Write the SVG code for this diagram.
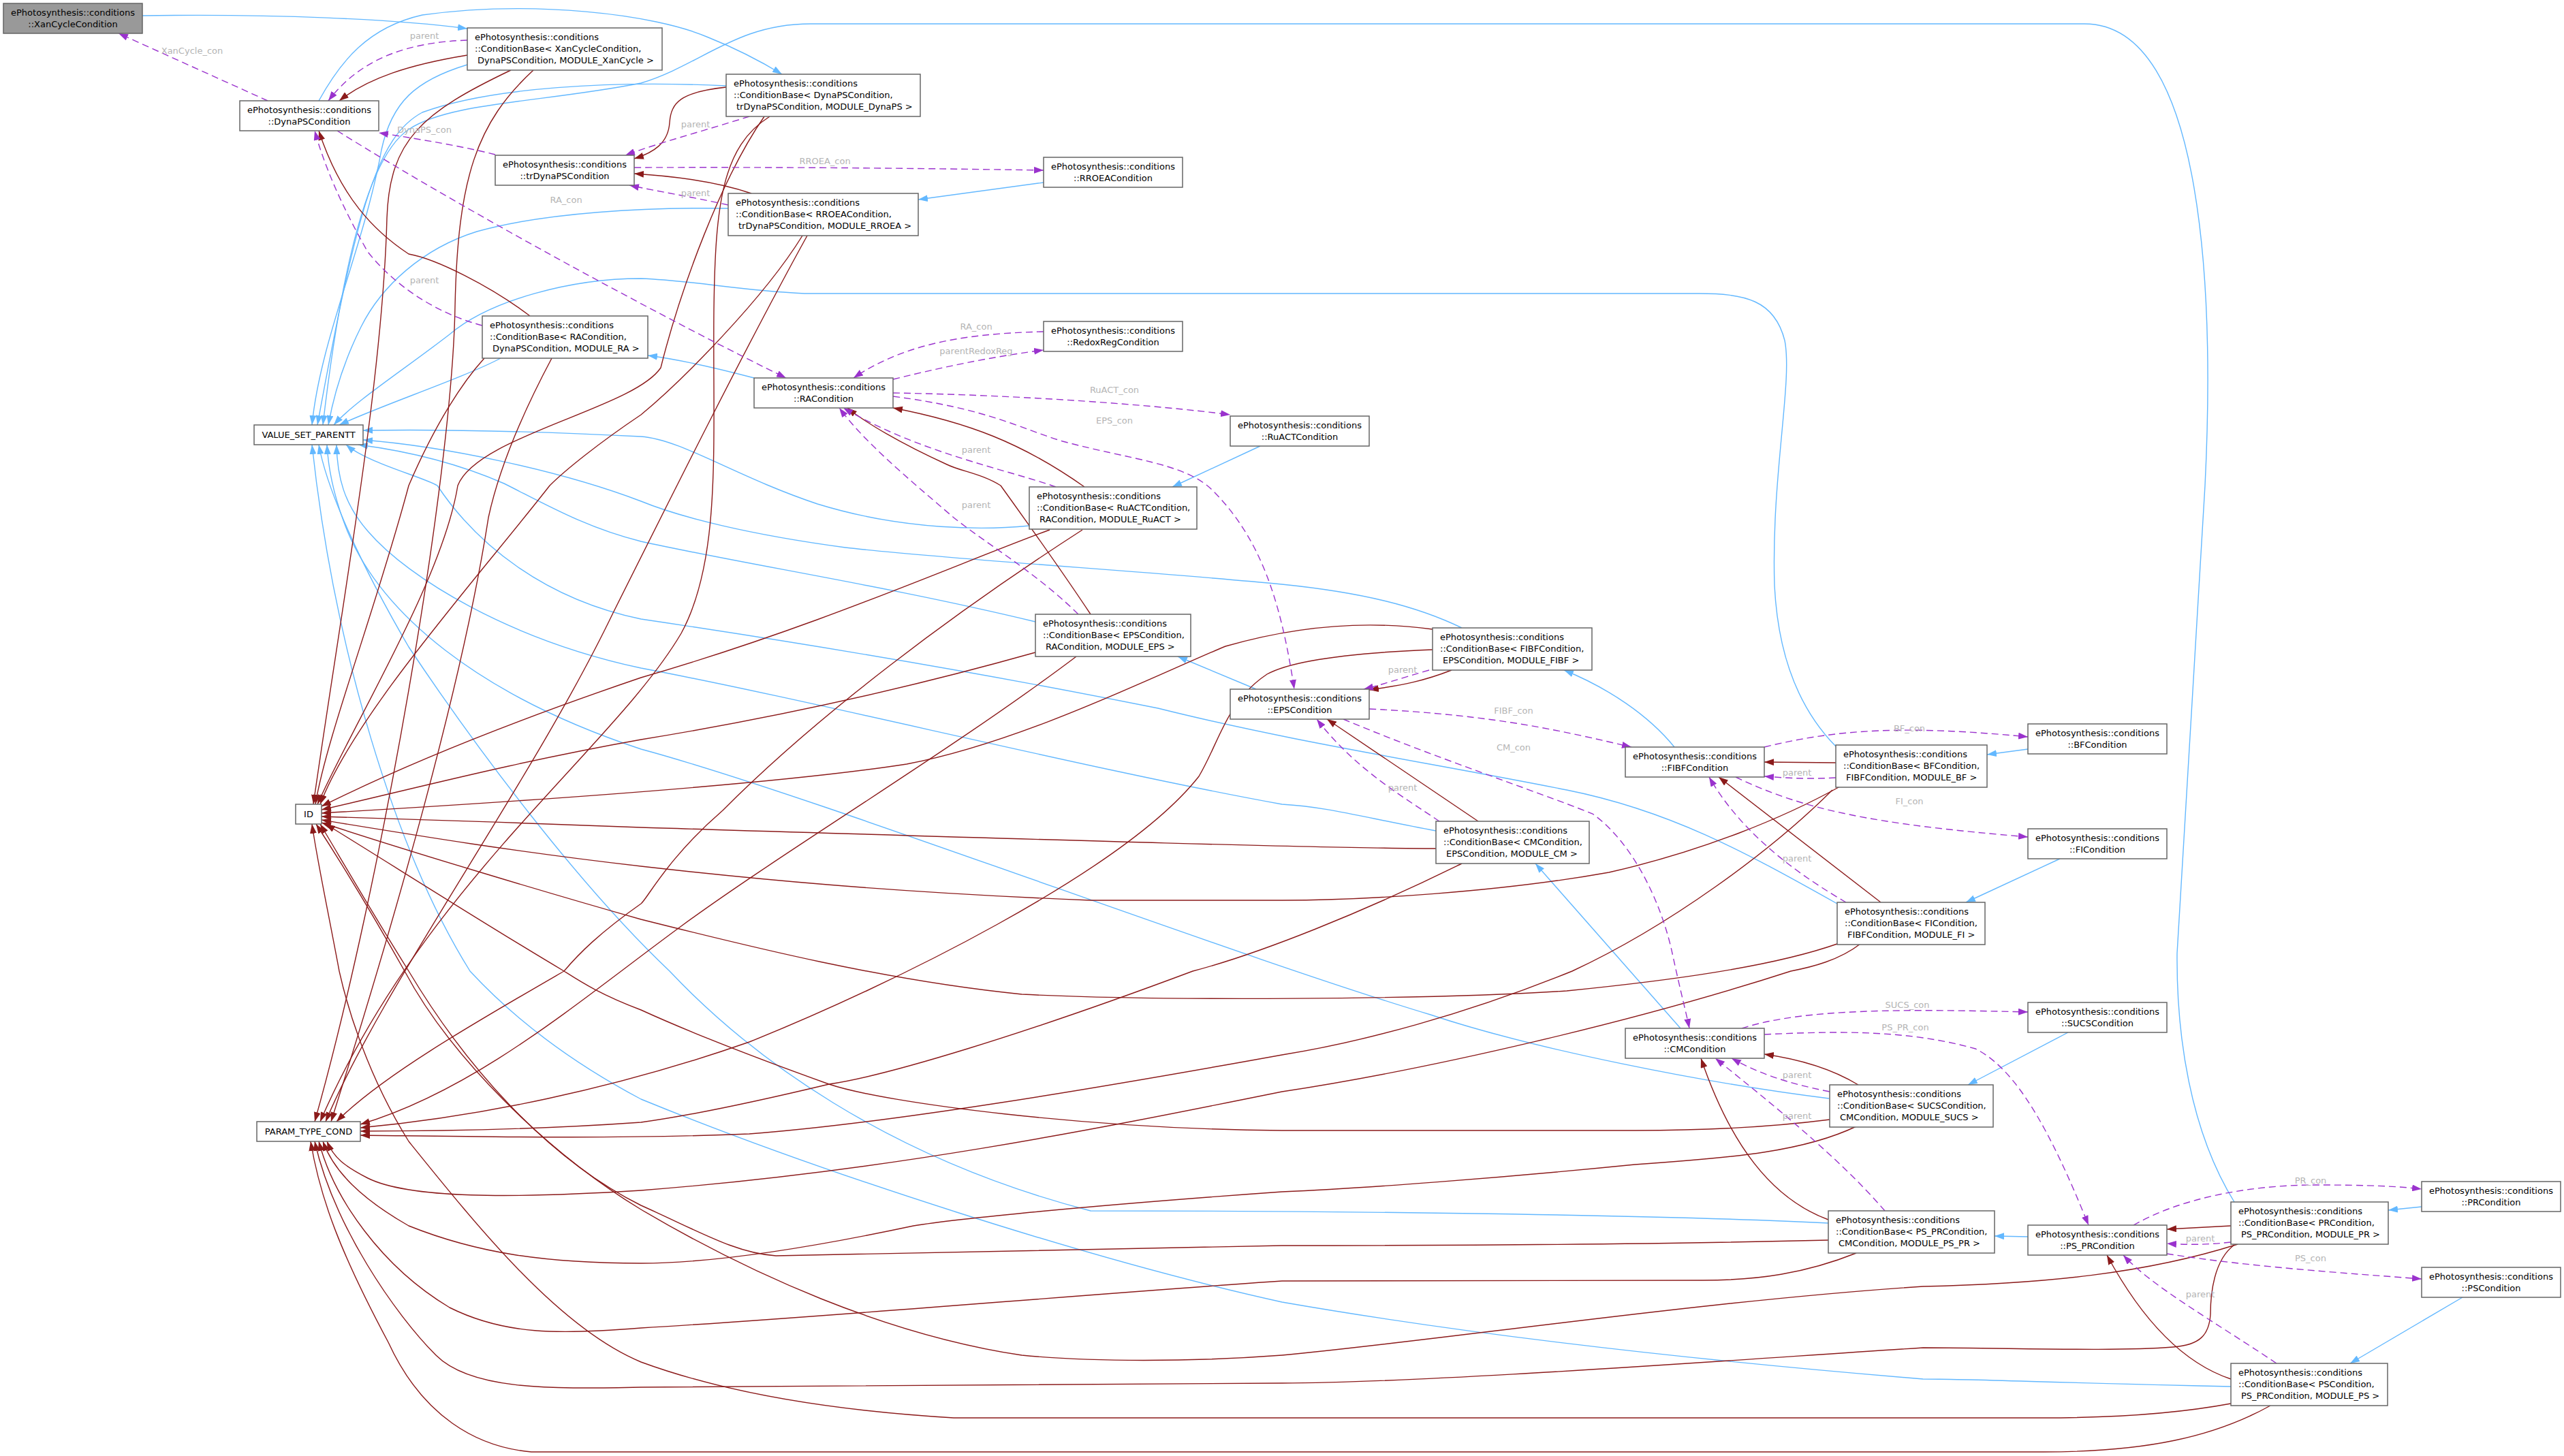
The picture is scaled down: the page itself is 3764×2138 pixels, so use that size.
<svg xmlns="http://www.w3.org/2000/svg" width="3764" height="2138" viewBox="0 0 3764 2138">
<style>
.node rect{fill:#ffffff;stroke:#666666;stroke-width:1.5}
.focus rect{fill:#999999}
text{font-family:"DejaVu Sans","Liberation Sans",sans-serif;font-size:13px;fill:#000000}
.c{text-anchor:middle}
.lbl{fill:#b4b4b4;text-anchor:middle}
.eb{stroke:#63b8ff;fill:none;stroke-width:1.4;marker-end:url(#ab)}
.er{stroke:#8b1a1a;fill:none;stroke-width:1.4;marker-end:url(#ar)}
.ep{stroke:#9a32cd;fill:none;stroke-width:1.4;stroke-dasharray:10,6;marker-end:url(#ap)}
</style>
<defs>
<marker id="ab" markerUnits="userSpaceOnUse" markerWidth="14" markerHeight="10" refX="14" refY="5" orient="auto"><path d="M0,0 L14,5 L0,10 z" fill="#63b8ff"/></marker>
<marker id="ar" markerUnits="userSpaceOnUse" markerWidth="14" markerHeight="10" refX="14" refY="5" orient="auto"><path d="M0,0 L14,5 L0,10 z" fill="#8b1a1a"/></marker>
<marker id="ap" markerUnits="userSpaceOnUse" markerWidth="14" markerHeight="10" refX="14" refY="5" orient="auto"><path d="M0,0 L14,5 L0,10 z" fill="#9a32cd"/></marker>
</defs>
<rect width="3764" height="2138" fill="#ffffff"/>
<g id="edges">
<!-- blue inheritance -->
<path class="eb" d="M209,23 C400,20 580,28 686,42"/>
<path class="eb" d="M468,148 C500,90 540,40 620,22 C780,0 960,20 1040,55 C1090,75 1125,95 1148,109"/>
<path class="eb" d="M1532,268 L1348,293"/>
<path class="eb" d="M1107,555 C1050,540 1000,528 951,522"/>
<path class="eb" d="M1850,655 L1721,715"/>
<path class="eb" d="M1844,1012 L1729,964"/>
<path class="eb" d="M2458,1097 C2420,1050 2360,1010 2296,984"/>
<path class="eb" d="M2977,1100 L2917,1108"/>
<path class="eb" d="M2467,1510 L2254,1268"/>
<path class="eb" d="M3024,1261 L2886,1325"/>
<path class="eb" d="M3036,1516 L2889,1593"/>
<path class="eb" d="M2977,1816 L2928,1815"/>
<path class="eb" d="M3555,1772 L3506,1777"/>
<path class="eb" d="M3615,1905 L3450,2002"/>
<path class="eb" d="M686,95 C610,118 575,150 560,220 C535,360 470,500 458,624"/>
<path class="eb" d="M1066,126 C900,118 720,128 620,165 C555,200 525,300 466,624"/>
<path class="eb" d="M3280,1765 C3215,1660 3195,1520 3196,1400 L3237,713 C3250,450 3240,35 3060,35 L1190,35 C1080,35 1030,95 941,122 C800,150 660,150 600,190 C540,230 500,400 474,624"/>
<path class="eb" d="M1069,306 C950,304 800,312 700,340 C620,365 560,420 530,480 C505,530 490,580 482,624"/>
<path class="eb" d="M2695,1096 C2640,1040 2610,960 2605,860 C2600,700 2632,560 2620,500 C2605,440 2560,431 2494,431 L1181,431 C1080,426 1020,412 941,409 C840,409 720,440 660,491 C590,545 520,590 490,624"/>
<path class="eb" d="M735,526 C680,555 560,595 498,624"/>
<path class="eb" d="M1511,772 C1450,778 1330,780 1200,740 C1080,700 1000,645 941,641 C800,634 650,630 533,632"/>
<path class="eb" d="M2146,922 C2080,890 2000,870 1882,858 C1700,840 1400,822 1241,804 C1100,785 1000,760 941,736 C820,690 650,655 533,646"/>
<path class="eb" d="M1520,913 C1300,860 1100,830 941,795 C860,775 800,740 740,710 C660,675 580,660 526,653"/>
<path class="eb" d="M2697,1327 C2560,1250 2450,1190 2300,1160 C2100,1120 1900,1090 1700,1040 C1400,980 1150,940 941,909 C800,880 700,800 642,713 C620,700 540,680 508,653"/>
<path class="eb" d="M2108,1220 C2000,1200 1950,1185 1882,1181 C1600,1130 1200,1030 941,981 C750,940 600,850 540,780 C505,740 495,700 494,653"/>
<path class="eb" d="M2685,1613 C2500,1590 2250,1540 2100,1490 C1800,1400 1200,1170 941,1100 C700,1020 560,900 510,780 C490,730 482,690 480,653"/>
<path class="eb" d="M2684,1796 C2400,1782 1900,1778 1601,1778 C1300,1700 1100,1550 983,1426 C850,1300 700,1100 600,950 C530,830 480,720 468,653"/>
<path class="eb" d="M3275,2036 C3000,2030 2900,2025 2823,2025 C2400,1990 2100,1950 1882,1912 C1600,1850 1200,1720 941,1614 C820,1550 740,1480 690,1426 C580,1250 490,950 458,653"/>
<!-- dark red -->
<path class="er" d="M686,81 C600,95 540,115 498,148"/>
<path class="er" d="M1066,128 C1000,135 985,150 983,180 C981,210 960,224 931,233"/>
<path class="er" d="M1103,284 C1050,266 980,258 931,255"/>
<path class="er" d="M778,464 C720,420 640,380 600,373 C550,340 500,290 468,192"/>
<path class="er" d="M1592,715 C1500,650 1420,620 1311,599"/>
<path class="er" d="M1601,902 C1560,840 1510,770 1469,713 C1440,695 1410,692 1390,682 C1320,650 1270,620 1244,599"/>
<path class="er" d="M2131,984 C2090,1000 2060,1006 2010,1013"/>
<path class="er" d="M2170,1206 L1948,1056"/>
<path class="er" d="M2695,1120 L2590,1119"/>
<path class="er" d="M2761,1325 L2523,1141"/>
<path class="er" d="M2728,1593 C2690,1570 2640,1555 2590,1548"/>
<path class="er" d="M2684,1791 C2600,1760 2540,1680 2497,1554"/>
<path class="er" d="M3275,1800 L3181,1805"/>
<path class="er" d="M3275,2025 C3200,2000 3140,1930 3093,1843"/>
<!-- to ID -->
<path class="er" d="M750,103 C620,165 572,205 568,320 C562,560 500,900 460,1181"/>
<path class="er" d="M1122,171 C1060,260 1000,420 970,540 C930,600 700,640 672,713 C650,850 520,1060 466,1181"/>
<path class="er" d="M1178,346 C1120,440 1000,560 941,609 C880,650 830,690 807,713 C700,850 520,1050 470,1181"/>
<path class="er" d="M711,526 C680,560 640,620 600,713 C550,900 480,1080 463,1181"/>
<path class="er" d="M1541,778 C1400,830 1200,920 941,995 C750,1060 600,1120 472,1184"/>
<path class="er" d="M1520,958 C1300,1020 1100,1060 941,1086 C750,1120 600,1160 472,1189"/>
<path class="er" d="M2103,924 C2000,910 1900,920 1799,949 C1700,990 1500,1090 1331,1122 C1150,1150 800,1175 472,1194"/>
<path class="er" d="M2108,1246 C1950,1246 1500,1232 941,1215 C800,1210 600,1202 472,1199"/>
<path class="er" d="M2701,1155 C2620,1200 2500,1250 2362,1281 C2200,1310 2000,1322 1882,1322 L1601,1322 C1300,1310 1100,1290 941,1272 C750,1250 600,1225 472,1204"/>
<path class="er" d="M2697,1386 C2600,1420 2450,1440 2300,1455 C2100,1468 1700,1470 1500,1460 C1300,1440 1100,1390 941,1350 C800,1310 600,1250 472,1208"/>
<path class="er" d="M2686,1644 C2600,1655 2500,1660 2400,1660 L1882,1660 C1600,1658 1300,1620 1217,1592 C1100,1550 1000,1510 941,1483 C880,1460 850,1440 828,1426 C700,1350 560,1260 478,1210"/>
<path class="er" d="M2684,1821 C2400,1828 2100,1829 1882,1829 L1139,1844 C1080,1840 1030,1810 941,1770 C800,1700 680,1560 600,1426 C540,1330 500,1260 470,1210"/>
<path class="er" d="M3285,1827 C3150,1870 3000,1885 2823,1889 C2500,1910 2100,1970 1882,1990 C1750,2000 1600,2000 1500,1990 C1300,1960 1100,1870 941,1776 C800,1690 660,1550 594,1426 C540,1330 490,1250 464,1210"/>
<path class="er" d="M3275,2061 C3200,2075 3100,2082 3000,2082 L1400,2082 C1200,2070 1050,2040 941,2000 C820,1950 700,1800 600,1676 C540,1580 510,1480 498,1426 C480,1330 465,1260 458,1210"/>
<!-- to PARAM_TYPE_COND -->
<path class="er" d="M783,103 C700,180 672,260 668,450 C664,700 560,1300 462,1647"/>
<path class="er" d="M1130,171 C1060,215 1050,300 1048,455 C1046,650 1060,820 1000,930 C900,1100 620,1300 470,1647"/>
<path class="er" d="M1185,346 C1100,500 1000,700 900,900 C780,1150 560,1450 478,1647"/>
<path class="er" d="M810,526 C760,620 730,700 717,760 C680,1000 580,1350 486,1647"/>
<path class="er" d="M1589,778 C1400,900 1200,1050 1061,1190 C980,1260 950,1320 941,1327 C880,1370 850,1400 828,1426 C700,1500 560,1580 494,1647"/>
<path class="er" d="M1580,964 C1400,1100 1150,1250 1000,1360 C850,1470 700,1600 529,1651"/>
<path class="er" d="M2103,954 C2000,958 1900,968 1860,990 C1800,1030 1790,1090 1760,1140 C1650,1280 1300,1450 1100,1530 C900,1600 700,1640 529,1656"/>
<path class="er" d="M2146,1268 C2000,1340 1850,1400 1751,1426 C1500,1520 1300,1580 1217,1592 C1100,1620 1000,1640 941,1648 C800,1658 650,1661 529,1661"/>
<path class="er" d="M2690,1160 C2600,1250 2450,1360 2308,1426 C2150,1490 2000,1530 1882,1549 C1600,1600 1300,1650 1100,1665 C900,1673 700,1669 529,1667"/>
<path class="er" d="M2731,1386 C2700,1410 2660,1420 2629,1426 C2400,1500 2100,1570 1882,1603 C1600,1660 1300,1720 941,1748 C750,1760 600,1760 540,1730 C505,1712 490,1700 480,1676"/>
<path class="er" d="M2725,1654 C2650,1690 2550,1700 2400,1710 C2200,1730 2000,1745 1882,1750 C1600,1770 1400,1790 1341,1800 C1200,1830 1050,1855 941,1855 C800,1855 700,1840 600,1800 C530,1760 490,1720 474,1676"/>
<path class="er" d="M2725,1840 C2650,1870 2580,1880 2500,1880 L1882,1881 C1600,1900 1200,1935 941,1950 C820,1960 740,1960 660,1920 C560,1860 490,1760 468,1676"/>
<path class="er" d="M3280,1828 C3250,1850 3245,1900 3245,1930 C3243,1960 3230,1975 3190,1978 C3100,1985 2950,1979 2823,1979 C2500,2000 2100,2030 1882,2031 L941,2037 C800,2040 690,2040 640,1990 C580,1930 490,1800 462,1676"/>
<path class="er" d="M3333,2064 C3250,2110 3150,2132 3000,2132 L780,2132 C700,2125 620,2080 570,1971 C500,1840 470,1760 456,1676"/>
<!-- purple dashed -->
<path class="ep" d="M393,148 L174,49"/>
<path class="ep" d="M686,59 C600,62 530,85 482,148"/>
<path class="ep" d="M727,227 C680,215 620,205 556,195"/>
<path class="ep" d="M1100,171 C1040,190 960,212 918,228"/>
<path class="ep" d="M931,246 C1200,245 1400,248 1532,250"/>
<path class="ep" d="M1069,301 C1020,290 960,280 924,272"/>
<path class="ep" d="M495,192 C700,320 1000,480 1154,555"/>
<path class="ep" d="M708,478 C640,460 580,420 540,370 C500,300 475,240 462,192"/>
<path class="ep" d="M1532,487 C1400,490 1320,510 1253,555"/>
<path class="ep" d="M1311,557 C1400,535 1470,522 1532,514"/>
<path class="ep" d="M1311,577 C1500,580 1700,595 1806,609"/>
<path class="ep" d="M1311,582 C1450,600 1500,630 1560,648 C1660,675 1740,680 1780,720 C1850,790 1880,880 1900,1012"/>
<path class="ep" d="M1550,715 C1480,690 1350,665 1238,599"/>
<path class="ep" d="M1583,902 C1520,840 1450,800 1400,760 C1330,700 1270,650 1232,599"/>
<path class="ep" d="M2010,1041 C2200,1050 2300,1075 2395,1097"/>
<path class="ep" d="M1972,1056 C2100,1110 2250,1160 2338,1195 C2400,1240 2440,1330 2455,1400 C2468,1460 2476,1490 2480,1510"/>
<path class="ep" d="M2098,984 C2060,995 2030,1005 2002,1012"/>
<path class="ep" d="M2113,1206 C2060,1170 1990,1130 1933,1056"/>
<path class="ep" d="M2590,1097 C2700,1070 2800,1065 2977,1082"/>
<path class="ep" d="M2695,1142 C2660,1144 2630,1143 2590,1140"/>
<path class="ep" d="M2548,1141 C2650,1190 2750,1210 2977,1229"/>
<path class="ep" d="M2710,1325 C2650,1290 2560,1230 2509,1141"/>
<path class="ep" d="M2557,1510 C2650,1480 2800,1482 2977,1486"/>
<path class="ep" d="M2590,1519 C2700,1514 2800,1512 2900,1540 C2960,1570 3010,1660 3066,1799"/>
<path class="ep" d="M2686,1603 C2620,1590 2580,1575 2542,1554"/>
<path class="ep" d="M2767,1778 C2700,1700 2600,1620 2518,1554"/>
<path class="ep" d="M3132,1799 C3200,1760 3300,1740 3400,1740 C3480,1740 3520,1742 3555,1746"/>
<path class="ep" d="M3275,1824 C3240,1828 3210,1828 3181,1826"/>
<path class="ep" d="M3181,1841 C3300,1860 3450,1870 3555,1878"/>
<path class="ep" d="M3342,2002 C3250,1940 3160,1890 3117,1843"/>
<!-- labels -->
<text class="lbl" x="282" y="79">XanCycle_con</text>
<text class="lbl" x="623" y="57">parent</text>
<text class="lbl" x="623" y="195">DynaPS_con</text>
<text class="lbl" x="1021" y="187">parent</text>
<text class="lbl" x="1211" y="241">RROEA_con</text>
<text class="lbl" x="1021" y="288">parent</text>
<text class="lbl" x="831" y="298">RA_con</text>
<text class="lbl" x="623" y="416">parent</text>
<text class="lbl" x="1433" y="484">RA_con</text>
<text class="lbl" x="1433" y="520">parentRedoxReg</text>
<text class="lbl" x="1636" y="577">RuACT_con</text>
<text class="lbl" x="1636" y="622">EPS_con</text>
<text class="lbl" x="1433" y="665">parent</text>
<text class="lbl" x="1433" y="746">parent</text>
<text class="lbl" x="2222" y="1048">FIBF_con</text>
<text class="lbl" x="2222" y="1102">CM_con</text>
<text class="lbl" x="2059" y="988">parent</text>
<text class="lbl" x="2059" y="1161">parent</text>
<text class="lbl" x="2803" y="1074">BF_con</text>
<text class="lbl" x="2638" y="1139">parent</text>
<text class="lbl" x="2803" y="1181">FI_con</text>
<text class="lbl" x="2638" y="1265">parent</text>
<text class="lbl" x="2800" y="1480">SUCS_con</text>
<text class="lbl" x="2797" y="1513">PS_PR_con</text>
<text class="lbl" x="2638" y="1583">parent</text>
<text class="lbl" x="2638" y="1643">parent</text>
<text class="lbl" x="3392" y="1738">PR_con</text>
<text class="lbl" x="3230" y="1823">parent</text>
<text class="lbl" x="3392" y="1852">PS_con</text>
<text class="lbl" x="3230" y="1905">parent</text>
</g>
<g id="nodes">
<g id="n-xan" class="node focus"><rect x="5" y="5" width="204" height="44"/><text class="c"><tspan x="107" y="23">ePhotosynthesis::conditions</tspan><tspan x="107" y="40">::XanCycleCondition</tspan></text></g>
<g id="n-cbxan" class="node"><rect x="686" y="41" width="286" height="62"/><text><tspan x="697" y="59">ePhotosynthesis::conditions</tspan><tspan x="697" y="76">::ConditionBase&lt; XanCycleCondition,</tspan><tspan x="701" y="93">DynaPSCondition, MODULE_XanCycle &gt;</tspan></text></g>
<g id="n-dynaps" class="node"><rect x="352" y="148" width="204" height="44"/><text class="c"><tspan x="454" y="166">ePhotosynthesis::conditions</tspan><tspan x="454" y="183">::DynaPSCondition</tspan></text></g>
<g id="n-cbdyn" class="node"><rect x="1066" y="109" width="285" height="62"/><text><tspan x="1077" y="127">ePhotosynthesis::conditions</tspan><tspan x="1077" y="144">::ConditionBase&lt; DynaPSCondition,</tspan><tspan x="1081" y="161">trDynaPSCondition, MODULE_DynaPS &gt;</tspan></text></g>
<g id="n-trdyn" class="node"><rect x="727" y="228" width="204" height="44"/><text class="c"><tspan x="829" y="246">ePhotosynthesis::conditions</tspan><tspan x="829" y="263">::trDynaPSCondition</tspan></text></g>
<g id="n-rroea" class="node"><rect x="1532" y="231" width="204" height="44"/><text class="c"><tspan x="1634" y="249">ePhotosynthesis::conditions</tspan><tspan x="1634" y="266">::RROEACondition</tspan></text></g>
<g id="n-cbrroea" class="node"><rect x="1069" y="284" width="279" height="62"/><text><tspan x="1080" y="302">ePhotosynthesis::conditions</tspan><tspan x="1080" y="319">::ConditionBase&lt; RROEACondition,</tspan><tspan x="1084" y="336">trDynaPSCondition, MODULE_RROEA &gt;</tspan></text></g>
<g id="n-cbra" class="node"><rect x="708" y="464" width="243" height="62"/><text><tspan x="719" y="482">ePhotosynthesis::conditions</tspan><tspan x="719" y="499">::ConditionBase&lt; RACondition,</tspan><tspan x="723" y="516">DynaPSCondition, MODULE_RA &gt;</tspan></text></g>
<g id="n-vsp" class="node"><rect x="373" y="624" width="160" height="29"/><text class="c" x="453" y="643">VALUE_SET_PARENTT</text></g>
<g id="n-redox" class="node"><rect x="1532" y="472" width="204" height="44"/><text class="c"><tspan x="1634" y="490">ePhotosynthesis::conditions</tspan><tspan x="1634" y="507">::RedoxRegCondition</tspan></text></g>
<g id="n-ra" class="node"><rect x="1107" y="555" width="204" height="44"/><text class="c"><tspan x="1209" y="573">ePhotosynthesis::conditions</tspan><tspan x="1209" y="590">::RACondition</tspan></text></g>
<g id="n-ruact" class="node"><rect x="1806" y="611" width="204" height="44"/><text class="c"><tspan x="1908" y="629">ePhotosynthesis::conditions</tspan><tspan x="1908" y="646">::RuACTCondition</tspan></text></g>
<g id="n-cbruact" class="node"><rect x="1511" y="715" width="246" height="62"/><text><tspan x="1522" y="733">ePhotosynthesis::conditions</tspan><tspan x="1522" y="750">::ConditionBase&lt; RuACTCondition,</tspan><tspan x="1526" y="767">RACondition, MODULE_RuACT &gt;</tspan></text></g>
<g id="n-cbeps" class="node"><rect x="1520" y="902" width="228" height="62"/><text><tspan x="1531" y="920">ePhotosynthesis::conditions</tspan><tspan x="1531" y="937">::ConditionBase&lt; EPSCondition,</tspan><tspan x="1535" y="954">RACondition, MODULE_EPS &gt;</tspan></text></g>
<g id="n-eps" class="node"><rect x="1806" y="1012" width="204" height="44"/><text class="c"><tspan x="1908" y="1030">ePhotosynthesis::conditions</tspan><tspan x="1908" y="1047">::EPSCondition</tspan></text></g>
<g id="n-cbfibf" class="node"><rect x="2103" y="922" width="234" height="62"/><text><tspan x="2114" y="940">ePhotosynthesis::conditions</tspan><tspan x="2114" y="957">::ConditionBase&lt; FIBFCondition,</tspan><tspan x="2118" y="974">EPSCondition, MODULE_FIBF &gt;</tspan></text></g>
<g id="n-fibf" class="node"><rect x="2386" y="1097" width="204" height="44"/><text class="c"><tspan x="2488" y="1115">ePhotosynthesis::conditions</tspan><tspan x="2488" y="1132">::FIBFCondition</tspan></text></g>
<g id="n-cbcm" class="node"><rect x="2108" y="1206" width="225" height="62"/><text><tspan x="2119" y="1224">ePhotosynthesis::conditions</tspan><tspan x="2119" y="1241">::ConditionBase&lt; CMCondition,</tspan><tspan x="2123" y="1258">EPSCondition, MODULE_CM &gt;</tspan></text></g>
<g id="n-bf" class="node"><rect x="2977" y="1063" width="204" height="44"/><text class="c"><tspan x="3079" y="1081">ePhotosynthesis::conditions</tspan><tspan x="3079" y="1098">::BFCondition</tspan></text></g>
<g id="n-cbbf" class="node"><rect x="2695" y="1094" width="222" height="62"/><text><tspan x="2706" y="1112">ePhotosynthesis::conditions</tspan><tspan x="2706" y="1129">::ConditionBase&lt; BFCondition,</tspan><tspan x="2710" y="1146">FIBFCondition, MODULE_BF &gt;</tspan></text></g>
<g id="n-fi" class="node"><rect x="2977" y="1217" width="204" height="44"/><text class="c"><tspan x="3079" y="1235">ePhotosynthesis::conditions</tspan><tspan x="3079" y="1252">::FICondition</tspan></text></g>
<g id="n-cbfi" class="node"><rect x="2697" y="1325" width="217" height="62"/><text><tspan x="2708" y="1343">ePhotosynthesis::conditions</tspan><tspan x="2708" y="1360">::ConditionBase&lt; FICondition,</tspan><tspan x="2712" y="1377">FIBFCondition, MODULE_FI &gt;</tspan></text></g>
<g id="n-id" class="node"><rect x="434" y="1181" width="38" height="29"/><text class="c" x="453" y="1200">ID</text></g>
<g id="n-ptc" class="node"><rect x="377" y="1647" width="152" height="29"/><text class="c" x="453" y="1666">PARAM_TYPE_COND</text></g>
<g id="n-cm" class="node"><rect x="2386" y="1510" width="204" height="44"/><text class="c"><tspan x="2488" y="1528">ePhotosynthesis::conditions</tspan><tspan x="2488" y="1545">::CMCondition</tspan></text></g>
<g id="n-sucs" class="node"><rect x="2977" y="1472" width="204" height="44"/><text class="c"><tspan x="3079" y="1490">ePhotosynthesis::conditions</tspan><tspan x="3079" y="1507">::SUCSCondition</tspan></text></g>
<g id="n-cbsucs" class="node"><rect x="2686" y="1593" width="240" height="62"/><text><tspan x="2697" y="1611">ePhotosynthesis::conditions</tspan><tspan x="2697" y="1628">::ConditionBase&lt; SUCSCondition,</tspan><tspan x="2701" y="1645">CMCondition, MODULE_SUCS &gt;</tspan></text></g>
<g id="n-cbpspr" class="node"><rect x="2684" y="1778" width="244" height="62"/><text><tspan x="2695" y="1796">ePhotosynthesis::conditions</tspan><tspan x="2695" y="1813">::ConditionBase&lt; PS_PRCondition,</tspan><tspan x="2699" y="1830">CMCondition, MODULE_PS_PR &gt;</tspan></text></g>
<g id="n-pspr" class="node"><rect x="2977" y="1799" width="204" height="44"/><text class="c"><tspan x="3079" y="1817">ePhotosynthesis::conditions</tspan><tspan x="3079" y="1834">::PS_PRCondition</tspan></text></g>
<g id="n-cbpr" class="node"><rect x="3275" y="1765" width="231" height="62"/><text><tspan x="3286" y="1783">ePhotosynthesis::conditions</tspan><tspan x="3286" y="1800">::ConditionBase&lt; PRCondition,</tspan><tspan x="3290" y="1817">PS_PRCondition, MODULE_PR &gt;</tspan></text></g>
<g id="n-pr" class="node"><rect x="3555" y="1735" width="204" height="44"/><text class="c"><tspan x="3657" y="1753">ePhotosynthesis::conditions</tspan><tspan x="3657" y="1770">::PRCondition</tspan></text></g>
<g id="n-ps" class="node"><rect x="3555" y="1861" width="204" height="44"/><text class="c"><tspan x="3657" y="1879">ePhotosynthesis::conditions</tspan><tspan x="3657" y="1896">::PSCondition</tspan></text></g>
<g id="n-cbps" class="node"><rect x="3275" y="2002" width="230" height="62"/><text><tspan x="3286" y="2020">ePhotosynthesis::conditions</tspan><tspan x="3286" y="2037">::ConditionBase&lt; PSCondition,</tspan><tspan x="3290" y="2054">PS_PRCondition, MODULE_PS &gt;</tspan></text></g>
</g>
</svg>
